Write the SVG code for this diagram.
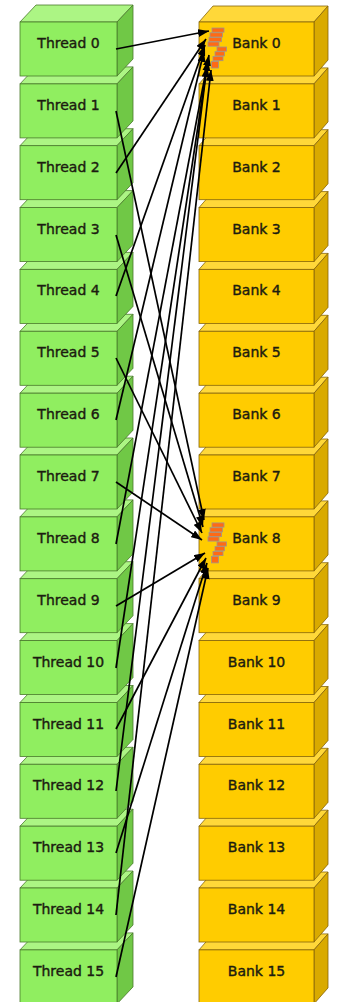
<svg xmlns="http://www.w3.org/2000/svg" xmlns:xlink="http://www.w3.org/1999/xlink" width="342" height="1002" viewBox="0 0 342 1002">
  <style>
    .t-front { fill: #90ee60; stroke: #4a7a2c; stroke-width: 0.8; }
    .t-top   { fill: #acf584; stroke: #4a7a2c; stroke-width: 0.8; }
    .t-side  { fill: #70c846; stroke: #4a7a2c; stroke-width: 0.8; }
    .b-front { fill: #ffcc00; stroke: #86650a; stroke-width: 0.8; }
    .b-top   { fill: #ffd839; stroke: #86650a; stroke-width: 0.8; }
    .b-side  { fill: #d9aa00; stroke: #86650a; stroke-width: 0.8; }
    .brick   { fill: #ff6a14; stroke: #a0948c; stroke-width: 0.8; }
    .label   { font-family: "DejaVu Sans", Verdana, sans-serif; font-size: 14px; fill: #1c1c10; stroke: #1c1c10; stroke-width: 0.4; text-anchor: middle; }
    .edge    { fill: none; stroke: #000; stroke-width: 1.7; marker-end: url(#head); }
  </style>
  <defs>
    <marker id="head" markerUnits="userSpaceOnUse" markerWidth="11" markerHeight="8" refX="11" refY="4" orient="auto">
      <path d="M0,0 L11,4 L0,8 Z" fill="#000"/>
    </marker>
    <!-- thread cube, front face top edge at y=0 -->
    <g id="tcube">
      <polygon class="t-top" points="20,0 117,0 133,-17 36,-17"/>
      <polygon class="t-side" points="117,0 133,-17 133,37 117,54"/>
      <rect class="t-front" x="20" y="0" width="97" height="54"/>
    </g>
    <!-- bank cube, front face top edge at y=0 -->
    <g id="bcube">
      <polygon class="b-top" points="199,0 314,0 328,-16 213,-16"/>
      <polygon class="b-side" points="314,0 328,-16 328,38 314,54"/>
      <rect class="b-front" x="199" y="0" width="115" height="54"/>
    </g>
    <!-- pile of accessed words on a bank -->
    <g id="bricks">
      <rect class="brick" x="212" y="6" width="12" height="4.2"/>
      <rect class="brick" x="210" y="10.8" width="12.5" height="4.2"/>
      <rect class="brick" x="209" y="15.5" width="12.5" height="4.2"/>
      <rect class="brick" x="208" y="20" width="11" height="4.2"/>
      <rect class="brick" x="217" y="25" width="9.5" height="4.2"/>
      <rect class="brick" x="215" y="29.7" width="9.5" height="4.2"/>
      <rect class="brick" x="213" y="34.5" width="10" height="4.2"/>
      <rect class="brick" x="211.5" y="39.5" width="7" height="6.5"/>
    </g>
  </defs>

  <!-- stacks are painted from the bottom up so each cube overlaps the one below -->
  <g id="nodes">
    <g id="thread-15" transform="translate(0,949.9)"><use xlink:href="#tcube"/><text class="label" x="68.5" y="26">Thread 15</text></g>
    <g id="bank-15" transform="translate(0,949.9)"><use xlink:href="#bcube"/><text class="label" x="256.5" y="26">Bank 15</text></g>
    <g id="thread-14" transform="translate(0,888)"><use xlink:href="#tcube"/><text class="label" x="68.5" y="26">Thread 14</text></g>
    <g id="bank-14" transform="translate(0,888)"><use xlink:href="#bcube"/><text class="label" x="256.5" y="26">Bank 14</text></g>
    <g id="thread-13" transform="translate(0,826.2)"><use xlink:href="#tcube"/><text class="label" x="68.5" y="26">Thread 13</text></g>
    <g id="bank-13" transform="translate(0,826.2)"><use xlink:href="#bcube"/><text class="label" x="256.5" y="26">Bank 13</text></g>
    <g id="thread-12" transform="translate(0,764.3)"><use xlink:href="#tcube"/><text class="label" x="68.5" y="26">Thread 12</text></g>
    <g id="bank-12" transform="translate(0,764.3)"><use xlink:href="#bcube"/><text class="label" x="256.5" y="26">Bank 12</text></g>
    <g id="thread-11" transform="translate(0,702.5)"><use xlink:href="#tcube"/><text class="label" x="68.5" y="26">Thread 11</text></g>
    <g id="bank-11" transform="translate(0,702.5)"><use xlink:href="#bcube"/><text class="label" x="256.5" y="26">Bank 11</text></g>
    <g id="thread-10" transform="translate(0,640.6)"><use xlink:href="#tcube"/><text class="label" x="68.5" y="26">Thread 10</text></g>
    <g id="bank-10" transform="translate(0,640.6)"><use xlink:href="#bcube"/><text class="label" x="256.5" y="26">Bank 10</text></g>
    <g id="thread-9" transform="translate(0,578.7)"><use xlink:href="#tcube"/><text class="label" x="68.5" y="26">Thread 9</text></g>
    <g id="bank-9" transform="translate(0,578.7)"><use xlink:href="#bcube"/><text class="label" x="256.5" y="26">Bank 9</text></g>
    <g id="thread-8" transform="translate(0,516.9)"><use xlink:href="#tcube"/><text class="label" x="68.5" y="26">Thread 8</text></g>
    <g id="bank-8" transform="translate(0,516.9)"><use xlink:href="#bcube"/><use xlink:href="#bricks"/><text class="label" x="256.5" y="26">Bank 8</text></g>
    <g id="thread-7" transform="translate(0,455)"><use xlink:href="#tcube"/><text class="label" x="68.5" y="26">Thread 7</text></g>
    <g id="bank-7" transform="translate(0,455)"><use xlink:href="#bcube"/><text class="label" x="256.5" y="26">Bank 7</text></g>
    <g id="thread-6" transform="translate(0,393.2)"><use xlink:href="#tcube"/><text class="label" x="68.5" y="26">Thread 6</text></g>
    <g id="bank-6" transform="translate(0,393.2)"><use xlink:href="#bcube"/><text class="label" x="256.5" y="26">Bank 6</text></g>
    <g id="thread-5" transform="translate(0,331.3)"><use xlink:href="#tcube"/><text class="label" x="68.5" y="26">Thread 5</text></g>
    <g id="bank-5" transform="translate(0,331.3)"><use xlink:href="#bcube"/><text class="label" x="256.5" y="26">Bank 5</text></g>
    <g id="thread-4" transform="translate(0,269.4)"><use xlink:href="#tcube"/><text class="label" x="68.5" y="26">Thread 4</text></g>
    <g id="bank-4" transform="translate(0,269.4)"><use xlink:href="#bcube"/><text class="label" x="256.5" y="26">Bank 4</text></g>
    <g id="thread-3" transform="translate(0,207.6)"><use xlink:href="#tcube"/><text class="label" x="68.5" y="26">Thread 3</text></g>
    <g id="bank-3" transform="translate(0,207.6)"><use xlink:href="#bcube"/><text class="label" x="256.5" y="26">Bank 3</text></g>
    <g id="thread-2" transform="translate(0,145.7)"><use xlink:href="#tcube"/><text class="label" x="68.5" y="26">Thread 2</text></g>
    <g id="bank-2" transform="translate(0,145.7)"><use xlink:href="#bcube"/><text class="label" x="256.5" y="26">Bank 2</text></g>
    <g id="thread-1" transform="translate(0,83.9)"><use xlink:href="#tcube"/><text class="label" x="68.5" y="26">Thread 1</text></g>
    <g id="bank-1" transform="translate(0,83.9)"><use xlink:href="#bcube"/><text class="label" x="256.5" y="26">Bank 1</text></g>
    <g id="thread-0" transform="translate(0,22)"><use xlink:href="#tcube"/><text class="label" x="68.5" y="26">Thread 0</text></g>
    <g id="bank-0" transform="translate(0,22)"><use xlink:href="#bcube"/><use xlink:href="#bricks"/><text class="label" x="256.5" y="26">Bank 0</text></g>
  </g>

  <!-- even threads hit bank 0, odd threads hit bank 8 -->
  <g id="connectors">
    <line class="edge" x1="116" y1="49" x2="209" y2="31"/>
    <line class="edge" x1="116" y1="173" x2="206" y2="39"/>
    <line class="edge" x1="116" y1="296" x2="205" y2="45"/>
    <line class="edge" x1="116" y1="420" x2="204" y2="51"/>
    <line class="edge" x1="116" y1="544" x2="209" y2="55"/>
    <line class="edge" x1="116" y1="668" x2="208" y2="60"/>
    <line class="edge" x1="116" y1="791" x2="207" y2="66"/>
    <line class="edge" x1="116" y1="915" x2="211" y2="70"/>

    <line class="edge" x1="116" y1="111" x2="204" y2="520"/>
    <line class="edge" x1="116" y1="235" x2="203" y2="527"/>
    <line class="edge" x1="116" y1="358" x2="202" y2="533"/>
    <line class="edge" x1="116" y1="482" x2="202" y2="540"/>
    <line class="edge" x1="116" y1="606" x2="205" y2="553"/>
    <line class="edge" x1="116" y1="729" x2="206" y2="558"/>
    <line class="edge" x1="116" y1="853" x2="207" y2="563"/>
    <line class="edge" x1="116" y1="977" x2="208" y2="568"/>
  </g>
</svg>
